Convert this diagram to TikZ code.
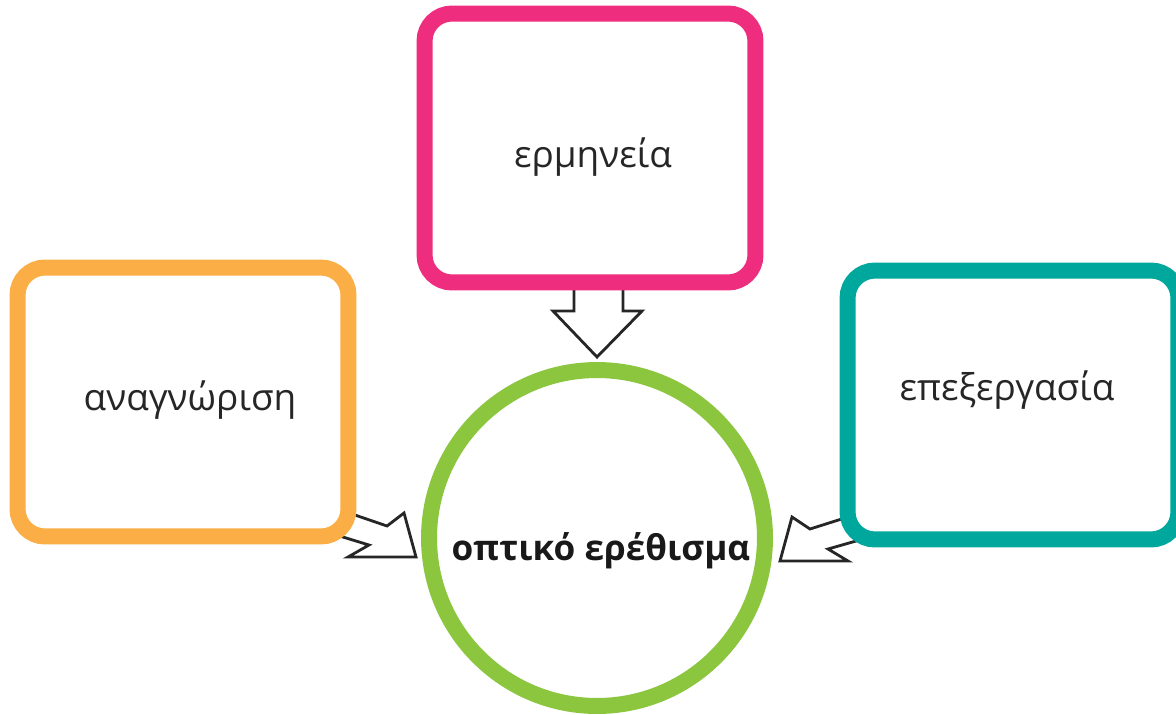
\documentclass[tikz,border=0pt]{standalone}
\usepackage{fontspec}
\setmainfont{Open Sans}
\definecolor{pinkc}{HTML}{EE2D7E}
\definecolor{orangec}{HTML}{FBAE45}
\definecolor{tealc}{HTML}{00A79D}
\definecolor{greenc}{HTML}{8CC63F}
\tikzset{
  box/.style={draw=#1, line width=0.32cm, rounded corners=0.55cm, fill=white,
    minimum width=6.62cm, minimum height=5.38cm},
  label/.style={font=\fontsize{21}{25}\selectfont, text=black!85},
  blockarrow/.style={draw=black!85, line width=1.6pt, fill=white, line join=miter}
}
\begin{document}
\begin{tikzpicture}[x=0.02cm, y=-0.02cm]
  \useasboundingbox (0,0) rectangle (1176,714);
  % block arrows (drawn first, boxes hide the tails)
  \draw[blockarrow] (574,270) -- (574,311) -- (553,311) -- (597,357)
    -- (642,311) -- (623,311) -- (623,270);
  \draw[blockarrow] (320,503) -- (387,526) -- (404,513) -- (416,557)
    -- (348,557) -- (369,545) -- (320,530);
  \draw[blockarrow] (870,510) -- (810,529) -- (792,517) -- (780,561)
    -- (848,561) -- (828,549) -- (870,537);
  % boxes
  \node[box=pinkc] (v0) at (590,148) {};
  \node[box=orangec] (v1) at (183,402) {};
  \node[box=tealc] (v2) at (1013,405) {};
  \node[label] (t0) at (593,157) {ερμηνεία};
  \node[label] (t1) at (190,400) {αναγνώριση};
  \node[label] (t2) at (1007,390) {επεξεργασία};
  % stimulus
  \node[circle, draw=greenc, line width=0.32cm, fill=white, minimum size=6.72cm] (v3) at (597,538) {};
  \node[font=\bfseries\fontsize{20}{24}\selectfont, text=black!90] (t3) at (601,551) {οπτικό ερέθισμα};
\end{tikzpicture}
\end{document}
